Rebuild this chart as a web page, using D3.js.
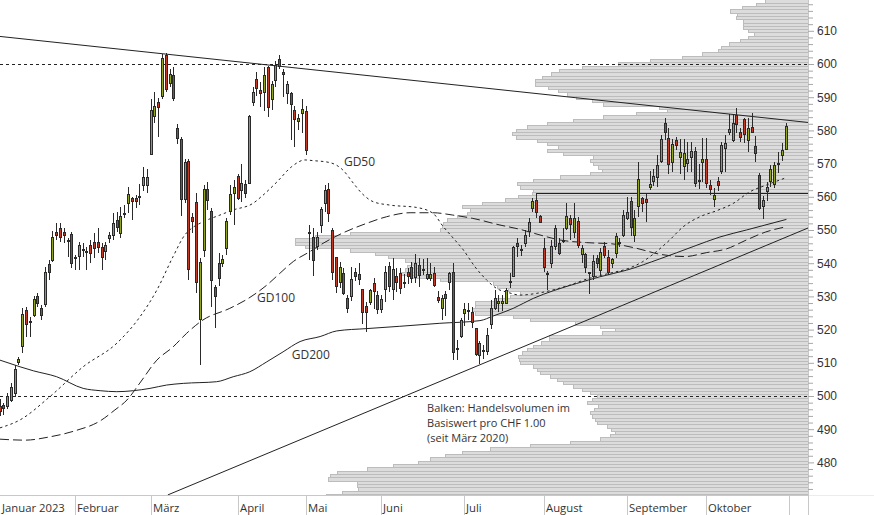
<!DOCTYPE html>
<html><head><meta charset="utf-8">
<script src="https://cdn.jsdelivr.net/npm/d3@7"></script>
<style>
html,body{margin:0;padding:0;background:#fff;}
svg{display:block;font-family:"Segoe UI","Open Sans","Noto Sans",sans-serif;}
</style></head><body>
<svg id="chart" width="874" height="515"></svg>
<script>
// ---- data: daily candles [open, high, low, close], one per trading day ----
const ohlc = [
// Januar 2023
[497,499,494,495.5],[497.2,498,494.3,496.3],[497,501,496,500],[498.8,503.9,498.2,502.8],[501,509.3,499.8,508.1],
[510.3,511.8,509.3,511],[515.1,526.5,512.9,524.6],[525.9,526.8,517.8,521.7],[522.6,523.9,517.8,522.2],[524.4,530.1,523.9,529.1],
[530.1,531,526.7,528.1],[526.4,527.4,522.9,524.4],[527.7,539,526.7,537.5],[539.7,541,534.9,537.3],[541,549.8,540.5,547.8],
[549.5,552.2,547,548.5],[550.6,552,546.5,547.8],[549.3,550.5,546,548.5],[546.6,547.5,542,546.9],[548.8,549.5,538.5,540],
// Februar
[541.8,542.5,538,541.6],[542.2,546.5,538,545.5],[544,546,542,544.2],[543.4,545,538,543.6],[545.5,547,540,543],
[546.5,549,541.5,544.5],[546.5,550.5,543,545],[544.8,546,538,541.9],[543.6,546.5,541,545.5],[547.5,549.5,546,548.5],
[548.5,555,547,552],[553,555.5,549.5,551],[549.1,557,547.5,554.2],[555,557.5,553.5,555.2],[558,563,555,560.8],
[559.5,559.8,553,558.8],[559.5,560.5,556.5,558.8],[560,564,557.5,560.2],[563.6,569.1,561.6,565.9],[563.6,568.5,561,565.9],
// März
[572.8,589.4,572.5,586.2],[584.4,591.7,582.2,587.4],[588.6,589.7,578.1,586.9],[590.5,603,589.5,601.7],[602.7,603.4,591.5,592.4],
[594.4,598.5,593,597],[596.7,599,589,589.7],[580.7,581.9,576,577.6],[577.4,578,554.2,559.3],[559.3,571.5,558,570.6],
[570.8,571.5,535,538.2],[553.8,555,549,552.8],[558.4,561,531,534.2],[523.1,541.5,509.4,540.5],[544,563.5,542,562.3],
[562.3,564.5,556,558.9],[555.7,556.5,526.7,535],[532.8,533.5,520.4,530.1],[540,543,533,535.5],[540.2,542.5,539,541.2],
[544.5,553.5,542.5,552.7],[555.8,563.6,554.5,560.8],[561.1,565.1,551.5,562.9],
// April
[566.3,567,559,559.6],[562.1,570,558.5,564.1],[563.9,565,559.5,561.1],[564.3,584.5,564,584.2],[588.7,593.2,587.5,591.7],
[595.4,597.5,590.5,592.9],[592.2,594.5,587,591.2],[591.5,599.2,585.7,596.7],[599,599.5,584,586.9],[589.5,595,586,594],
[595.2,601,593,599.7],[601.4,602.7,598.5,599.4],[597.7,598.5,590,596.9],[591.2,595,588,593.9],[591.2,591.5,577.1,588],
[586.2,587.5,575,583.4],[582.9,585,580,583.7],[585.2,589.4,579.2,586.4],
// Mai
[585.7,587.5,572.5,574.1],[549,551.5,541,549.4],[548,550.5,536,541],[545.2,549.5,544,547.8],[551.5,557,549,556.3],
[558.1,563.5,555.5,562.1],[562.3,564.3,552.5,555.2],[550,550.5,535,537.2],[541.8,542,531,533],[534.2,540.5,532.5,539],
[537,538.5,530.5,531.1],[529.4,530.4,524.9,526.6],[530,539,528.5,535.3],[537.5,538.5,534.5,536],[536.8,540,533.5,535.2],
[532.2,532.2,521.7,525.4],[527,528.4,519.4,525.4],[528.4,532.3,527.5,531.8],[534,535.5,526.1,531.5],[530.4,531.5,524.7,526.1],
// Juni
[526.1,530.5,524.9,529.1],[532.2,539.3,528.3,537.5],[539.2,540.5,531.3,533],[532.2,541.5,528.9,538.2],[536.2,538.5,531.3,534.2],
[537,538.5,530.7,532.5],[534,536.8,532.5,534.2],[537.3,538.5,533.7,536],[539,540.5,534,535.5],[535.8,542.8,534,540.2],
[539.5,541.5,532.8,536.5],[538,541.2,536.5,538.3],[535.5,541.5,535,536.7],[535.5,540,534.5,536.7],[537,539,532.7,533.5],
[529.9,531.7,528,528.9],[526.4,530.4,522.9,529.4],[530.7,531.5,524,529.4],[534.4,537.5,531.9,537],[537.5,540,510.9,513.4],
[514.2,517,510.9,514.6],[518.2,523.5,517.5,523],
// Juli
[524.9,528,521,526.1],[525.7,528,523,526],[525.4,526.9,520.4,522.4],[520.4,520.4,511.9,512.7],[512.4,516.5,509.6,515.9],
[513.8,515.5,511,514],[513.7,520.4,512.2,518.4],[521.7,528.9,520.2,526.4],[526.4,531.9,525.8,529.4],[527.9,530.4,525.3,528.6],
[527.9,530.4,525.5,528.6],[528.1,532.5,527.8,531.8],[534.2,537,532.4,534.6],[536,545.2,535.8,544.8],[546,547.5,542,545.2],
[544,545.5,542.2,544.2],[546.2,550,544.9,548.5],[549.8,553.5,548,552.4],[556.6,559.5,555.5,558.6],[559,561,553.5,555.5],
[554.2,554.5,552,552.5],
// August
[544.5,547.5,537.2,538.8],[537,537.8,532,536.8],[540,547,538.5,545.2],[545.2,551.5,544,550.5],[546.2,547.5,542.5,543.2],
[546.6,550.5,546,546.9],[550.5,558.1,550,554.3],[553.6,554.5,547,551.8],[549.5,558,547.5,553.6],[552.8,554,544.5,545.5],
[542.8,545.5,540,544.6],[542.8,543,537,539],[537.3,537.5,530.7,537],[536.2,542.5,535,540.8],[541.5,542.5,538.5,540],
[538,544.5,536.5,543.5],[545.2,546.5,541.5,542.5],[542,544,536.5,537.2],[540,541.5,538.5,541.2],[543,549,541.5,548.2],
[546.5,547.5,545,546],[548.5,556,548,554.5],
// September
[553.6,560,553,555.4],[558.6,560,548.2,551],[548.5,556,546.5,553.6],[557.3,570.6,554,565.3],[559.5,560,555.5,558.1],
[559.3,560.9,552.5,558.3],[562.9,567.9,562,563.9],[564.9,568.4,563.4,566.3],[565.9,572.6,562.9,569.6],[570.9,578.5,570.1,577.3],
[582.3,583.6,577.1,579.6],[577.6,580.6,566.9,569.9],[570.4,577.5,567.5,575.9],[577.1,578,574,575.6],[571.9,577.5,567,573.6],
[569.3,577.5,565,573.3],[570.3,576.5,567.5,571.3],[571.9,576.5,567.5,573.9],[573.9,575.1,563.1,564.3],[564.7,570,562.5,565],
[570.6,577.6,564.5,571.3],
// Oktober
[571.3,577.6,562.6,564.3],[563.5,565,560.5,562.3],[559.2,562.6,556.9,560.6],[564.9,566,561.7,563.5],[567.9,576.5,567,575.6],
[574.8,578.5,567.5,576.2],[579.5,584.8,578.5,580.5],[577.1,584.7,576.6,582.3],[584.7,586.6,579.2,582],[579.6,580.6,576.6,578.1],
[583.3,583.7,576.2,579],[577.1,583.7,573.6,580.7],[581,585.2,579.2,579.6],[575.2,578.3,570.6,573.3],[566.6,567.3,555.9,556.5],
[557.1,560.1,553.2,559.1],[561.6,564.6,558.6,562.9],[564.9,569.5,563,568.3],[563.9,570.6,562.6,569.6],[570,573.6,567.1,570.3],
[572.6,576.1,570.9,574.1],[574.3,582.3,574.1,581.3]
];

const monthNames = ["Januar 2023","Februar","März","April","Mai","Juni","Juli","August","September","Oktober"];
const monthDays  = [20,20,23,18,20,22,21,22,21,22];
const yTickLabels = [480,490,500,510,520,530,540,550,560,570,580,590,600,610];

// moving averages: [trading-day index, price]
const gd50 = [[0,490.4],[5.3,492.8],[13.2,499.8],[22,508.8],[31,516],[37,523.8],[41.5,531.9],[45.8,542],[48.9,548.5],
[50.7,550.5],[53.8,552.5],[58.2,554.5],[61.6,556],[66.9,558],[69.6,560.5],[73.3,564.5],[77.2,569.1],[80.7,571.1],[82.8,570.9],
[87.3,570.3],[90.7,568.1],[93.5,564.1],[95.7,561.1],[98.8,558.5],[103.2,557.5],[110.2,556.8],[114.6,555],[117.3,551],
[119.9,547.6],[122.6,544],[125.7,538.9],[128.8,534.9],[131.4,532.4],[134.4,531.2],[137.6,530.4],[142.9,531.1],[149.9,533.1],
[156.1,535.5],[161.4,537],[166.7,538.6],[170.1,540.5],[173.7,543.5],[177.2,547],[180.8,551],[185.2,554],[189.6,555.8],
[194,558],[198.4,561.5],[202.9,563.6],[207.9,565.7]];
const gd100 = [[0,487],[6.6,486.7],[13.2,487.7],[19.8,489.5],[26.5,492.5],[30.4,495.8],[33.6,498.8],[37,503.9],[41.5,510.8],
[45.8,514.8],[49.4,518.9],[53.7,522.9],[60.8,526.4],[65.3,529.1],[70.6,533.4],[74.1,537],[77.6,540.5],[82,543.5],[85.5,546],
[90.7,549.1],[97,552],[102.3,554],[108.5,555.2],[114.6,555.2],[119.8,554.5],[125.1,553.5],[132.3,551.5],[137.6,550.2],
[142.9,548.5],[148.1,547],[155.2,546.2],[162.2,545.8],[168.4,544.5],[174.6,542.7],[181.2,542],[187,543.2],[192.2,544.3],
[197.5,547],[202.6,549.4],[208.1,551]];
const gd200 = [[0,510.8],[5.3,508.8],[8.8,507.6],[15,505.8],[22,502.3],[26.5,501.6],[30.9,501.3],[35.3,501.6],[39.7,502.3],
[44.1,503.3],[48.5,503.8],[57.3,504.3],[61.7,505.8],[66.1,507.3],[70.6,510.3],[74.9,513.3],[79.4,516.4],[84.7,517.9],
[89.1,519.6],[97,520.3],[105.8,521],[116.4,521.9],[127,522.7],[130.5,524.1],[135.8,526.4],[141.1,529.4],[146.4,531.7],
[152.6,533.9],[158.7,535.9],[165.8,537.9],[174.6,541.3],[183.4,545],[190.5,547.9],[197.5,550],[208.1,553.2]];

// trend lines [index, price]
const resistanceLine = [[0,608.3],[213.8,582.4]];
const supportLine = [[44.4,470.2],[213.8,550.6]];
const levelLine = [[142,561.2],[213.8,561.2]];
const refLevels = [600,500];

// volume profile: [price level (CHF 1.00 bin), traded volume, relative units]
const volumeProfile = [
[619,43],[618,52],[617,66],[616,78],[615,71],[614,72],[613,65],[612,65],[611,65],[610,60],
[609,54],[608,60],[607,68],[606,79],[605,87],[604,90],[603,106],[602,126],[601,158],[600,190],
[599,226],[598,249],[597,257],[596,266],[595,273],[594,273],[593,260],[592,250],[591,241],[590,232],
[589,216],[588,205],[587,149],[586,141],[585,172],[584,205],[583,235],[582,261],[581,281],[580,292],
[579,296],[578,292],[577,271],[576,261],[575,250],[574,261],[573,245],[572,215],[571,218],[570,215],
[569,210],[568,206],[567,218],[566,248],[565,275],[564,291],[563,288],[562,275],[561,276],[560,290],
[559,303],[558,326],[557,346],[556,338],[555,341],[554,351],[553,361],[552,365],[551,366],[550,368],
[549,458],[548,493],[547,513],[546,513],[545,503],[544,458],[543,433],[542,420],[541,403],[540,396],
[539,401],[538,403],[537,408],[536,398],[535,368],[534,315],[533,311],[532,300],[531,288],[530,298],
[529,313],[528,333],[527,333],[526,336],[525,333],[524,295],[523,278],[522,233],[521,208],[520,193],
[519,206],[518,259],[517,259],[516,267],[515,275],[514,281],[513,286],[512,290],[511,289],[510,288],
[509,275],[508,271],[507,268],[506,258],[505,251],[504,245],[503,235],[502,226],[501,218],[500,211],
[499,216],[498,221],[497,210],[496,214],[495,218],[494,216],[493,213],[492,211],[491,201],[490,197],
[489,193],[488,198],[487,208],[486,238],[485,278],[484,318],[483,346],[482,363],[481,378],[480,390],
[479,415],[478,441],[477,471],[476,478],[475,480],[474,451],[473,451],[472,450],[471,466],[470,482]
];

// ---- drawing ----
const W = 808, H = 495;
const svg = d3.select("#chart");
const x = d3.scaleLinear().domain([0, 213.8]).range([0, W]);
const y = d3.scaleLinear().domain([470.18, 619.28]).range([H, 0]);
const vScale = d3.scaleLinear().domain([0, 520]).range([0, 520]);
const snap = v => Math.round(v) + 0.5;

svg.append("defs").append("clipPath").attr("id","plot")
  .append("rect").attr("x",0).attr("y",0).attr("width",W).attr("height",H);
const plot = svg.append("g").attr("clip-path","url(#plot)");

// volume profile
plot.append("g").selectAll("rect").data(volumeProfile).join("rect")
  .attr("x", d => snap(W - vScale(d[1])))
  .attr("y", d => snap(y(d[0] + 0.5)))
  .attr("width", d => W - snap(W - vScale(d[1])) + 1)
  .attr("height", d => snap(y(d[0] - 0.5)) - snap(y(d[0] + 0.5)))
  .attr("fill", "#dcdcdc").attr("stroke", "#bcbcbc").attr("stroke-width", 1);

// reference levels
plot.append("g").selectAll("line").data(refLevels).join("line")
  .attr("x1",0).attr("x2",W).attr("y1",d=>snap(y(d))).attr("y2",d=>snap(y(d)))
  .attr("stroke","#222").attr("stroke-width",1).attr("stroke-dasharray","3,3");

// trend lines
const straight = d3.line().x(d => x(d[0])).y(d => y(d[1]));
[resistanceLine, supportLine].forEach(l =>
  plot.append("path").attr("d", straight(l)).attr("fill","none").attr("stroke","#222").attr("stroke-width",1));
plot.append("path").attr("d", d3.line().x(d=>x(d[0])).y(d=>snap(y(d[1])))(levelLine))
  .attr("fill","none").attr("stroke","#222").attr("stroke-width",1);

// moving averages
const smooth = d3.line().x(d => x(d[0])).y(d => y(d[1])).curve(d3.curveMonotoneX);
plot.append("path").attr("d", smooth(gd200)).attr("fill","none").attr("stroke","#222").attr("stroke-width",1);
plot.append("path").attr("d", smooth(gd100)).attr("fill","none").attr("stroke","#222").attr("stroke-width",1).attr("stroke-dasharray","9,4");
plot.append("path").attr("d", smooth(gd50)).attr("fill","none").attr("stroke","#222").attr("stroke-width",1).attr("stroke-dasharray","2.5,3");

// candles
const cg = plot.append("g");
ohlc.forEach((d, i) => {
  const [o, h, l, c] = d;
  const px = Math.floor(x(i));
  cg.append("line").attr("x1", px + 0.5).attr("x2", px + 0.5)
    .attr("y1", Math.round(y(h))).attr("y2", Math.round(y(l)))
    .attr("stroke", "#2a2a2a").attr("stroke-width", 1);
  const top = snap(y(Math.max(o, c))), bot = snap(y(Math.min(o, c)));
  cg.append("rect").attr("x", px - 0.5).attr("y", top).attr("width", 2)
    .attr("height", Math.max(1, bot - top))
    .attr("fill", c >= o ? "#93a51b" : "#c03a26")
    .attr("stroke", "#2a2a2a").attr("stroke-width", 1);
});

// labels inside the plot
const txt = (t, tx, ty, fs) => svg.append("text").attr("x", tx).attr("y", ty).text(t)
  .attr("font-size", fs).attr("fill", "#333");
txt("GD50", x(91), y(569.3), 12);
txt("GD100", x(68), y(528.2), 12);
txt("GD200", x(77.2), y(511.0), 12);
[["Balken: Handelsvolumen im", 495.1], ["Basiswert pro CHF 1.00", 490.6], ["(seit März 2020)", 486.1]]
  .forEach(([t, p]) => txt(t, x(113), y(p), 11));

// axes frame
svg.append("line").attr("x1",0).attr("x2",874).attr("y1",H+0.5).attr("y2",H+0.5).attr("stroke","#ececec");
svg.append("line").attr("x1",0).attr("x2",W).attr("y1",H+0.5).attr("y2",H+0.5).attr("stroke","#c8c8c8");
svg.append("line").attr("x1",W+0.5).attr("x2",W+0.5).attr("y1",0).attr("y2",515).attr("stroke","#c8c8c8");

// month separators and labels
const starts = d3.cumsum([0, ...monthDays]);
svg.append("g").selectAll("line").data(Array.from(starts).slice(1)).join("line")
  .attr("x1", d => Math.floor(x(d)) + 0.5).attr("x2", d => Math.floor(x(d)) + 0.5)
  .attr("y1", H).attr("y2", 515).attr("stroke", "#c8c8c8");
svg.append("g").selectAll("text").data(monthNames).join("text")
  .attr("x", (d, i) => Math.floor(x(starts[i])) + 2).attr("y", 511.5)
  .attr("font-size", 11.3).attr("fill", "#333").text(d => d);

// y axis on the right
const yAxis = d3.axisRight(y).tickValues(yTickLabels).tickSize(6).tickPadding(3).tickFormat(d3.format("d"));
const ya = svg.append("g").attr("transform", `translate(${W},0)`).call(yAxis);
ya.select(".domain").remove();
ya.selectAll("line").attr("stroke", "#a8a8a8");
ya.selectAll("text").attr("font-size", 12).attr("fill", "#333").attr("font-family", null);
const minor = svg.append("g").attr("transform", `translate(${W},0)`)
  .call(d3.axisRight(y).tickValues(d3.range(472, 620, 2).filter(v => v % 10 !== 0)).tickSize(5).tickFormat(""));
minor.select(".domain").remove();
minor.selectAll("line").attr("stroke", "#a8a8a8");
</script>
</body></html>
